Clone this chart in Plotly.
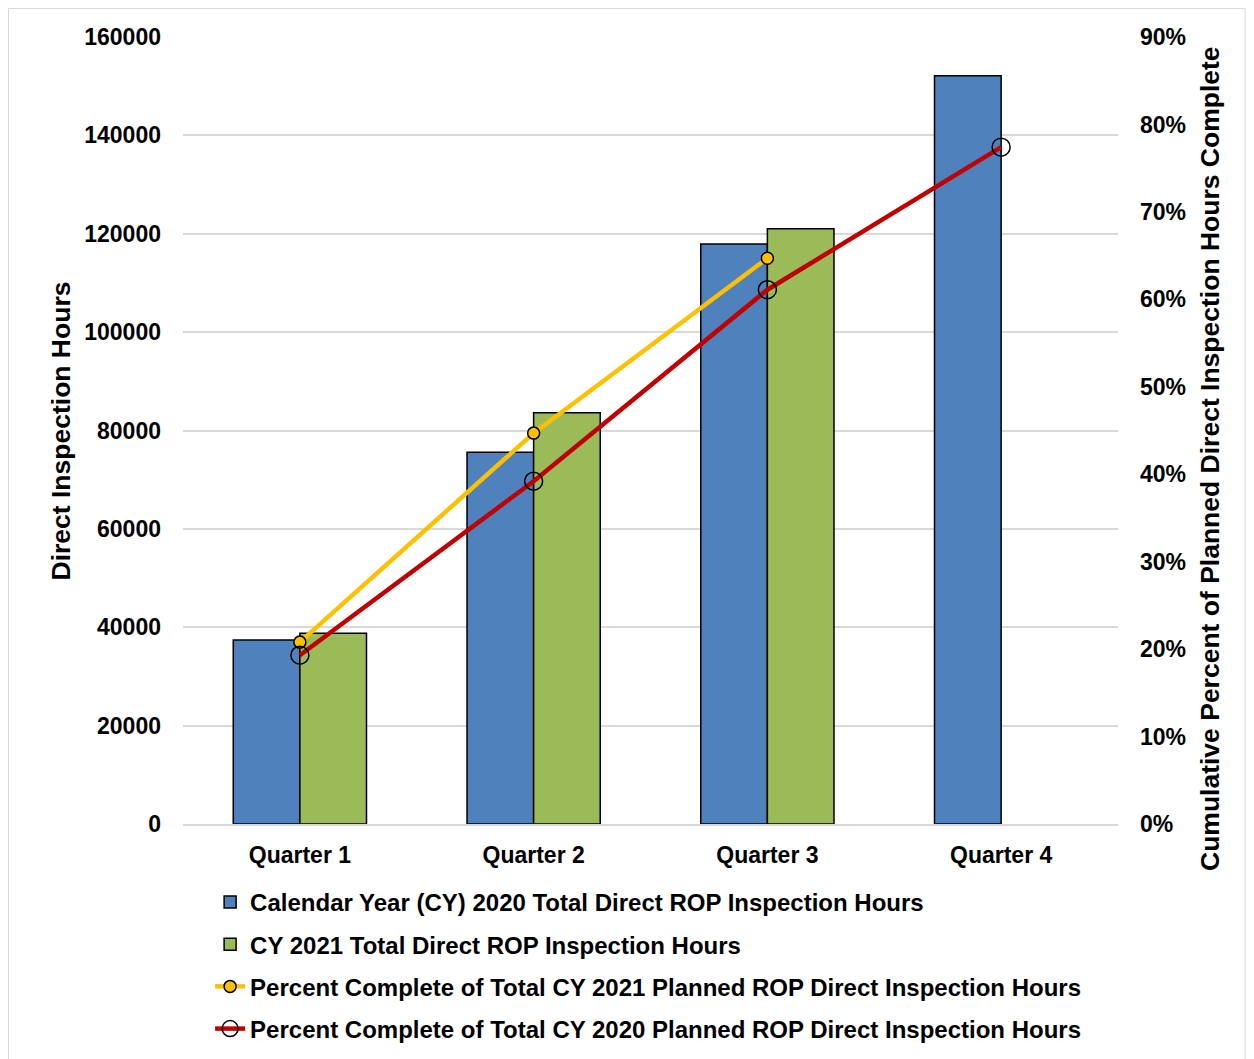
import plotly.graph_objects as go

quarters = ["Quarter 1", "Quarter 2", "Quarter 3", "Quarter 4"]
hours_2020 = [37400, 75600, 117900, 152100]
hours_2021 = [38800, 83600, 121000, None]
pct_2021 = [0.208, 0.447, 0.647, None]
pct_2020 = [0.193, 0.392, 0.611, 0.774]

names = [
    "Calendar Year (CY) 2020 Total Direct ROP Inspection Hours",
    "CY 2021 Total Direct ROP Inspection Hours",
    "Percent Complete of Total CY 2021 Planned ROP Direct Inspection Hours",
    "Percent Complete of Total CY 2020 Planned ROP Direct Inspection Hours",
]
left_title = "Direct Inspection Hours"
right_title = "Cumulative Percent of Planned Direct Inspection Hours Complete"

FAM = "Liberation Sans, Arial, sans-serif"
font = dict(family=FAM, size=23, color="black")

fig = go.Figure()
fig.add_trace(go.Bar(x=quarters, y=hours_2020, name=names[0], marker=dict(color="#4f81bd", line=dict(color="black", width=1.5)), legendgroup="a"))
fig.add_trace(go.Bar(x=quarters, y=hours_2021, name=names[1], marker=dict(color="#9bbb59", line=dict(color="black", width=1.5)), legendgroup="b"))
fig.add_trace(go.Scatter(x=quarters, y=pct_2021, name=names[2], yaxis="y2", mode="lines+markers",
                         line=dict(color="#ffc000", width=4.5),
                         marker=dict(symbol="circle", size=12, color="#ffc000", line=dict(color="black", width=1.5)), legendgroup="c"))
fig.add_trace(go.Scatter(x=quarters, y=pct_2020, name=names[3], yaxis="y2", mode="lines+markers",
                         line=dict(color="#c00000", width=4.5),
                         marker=dict(symbol="circle-open", size=18, color="black", line=dict(color="black", width=1.5)), legendgroup="d"))

fig.update_layout(
    width=1254, height=1059,
    margin=dict(l=175, r=144, t=29, b=243, autoexpand=False),
    paper_bgcolor="white", plot_bgcolor="white",
    font=font,
    barmode="group", bargap=0.43, bargroupgap=0,
    showlegend=True,
    legend=dict(x=0.029, y=-0.071, xanchor="left", yanchor="top", orientation="v",
                traceorder="grouped", tracegroupgap=8, font=dict(size=24, color="black", family=FAM, weight="bold")),
    xaxis=dict(showgrid=False, tickfont=dict(size=23, weight="bold"), showline=True, linecolor="#d9d9d9", linewidth=1.5, ticks="",
               ticklabelstandoff=10, automargin=False),
    yaxis=dict(range=[0, 160000], dtick=20000, gridcolor="#d9d9d9", gridwidth=1.5, zeroline=False,
               tickfont=dict(size=23, weight="bold"), tickformat="d", ticklabelstandoff=21, automargin=False),
    yaxis2=dict(range=[0, 0.9], dtick=0.1, overlaying="y", side="right", tickformat=".0%", showgrid=False, zeroline=False,
                tickfont=dict(size=23, weight="bold"), ticklabelstandoff=21, automargin=False),
    annotations=[
        dict(text=left_title, textangle=-90, xref="paper", yref="paper", x=-0.1305, y=0.5,
             xanchor="center", yanchor="middle", showarrow=False, font=dict(size=26.5, weight="bold", family=FAM)),
        dict(text=right_title, textangle=-90, xref="paper", yref="paper", x=1.0984, y=0.4638,
             xanchor="center", yanchor="middle", showarrow=False, font=dict(size=26.5, weight="bold", family=FAM)),
    ],
    shapes=[dict(type="rect", xref="paper", yref="paper", x0=-0.1866, x1=1.136, y0=-0.4, y1=1.0362,
                 line=dict(color="#d9d9d9", width=1), layer="below")],
)

fig.write_html("out.html")
